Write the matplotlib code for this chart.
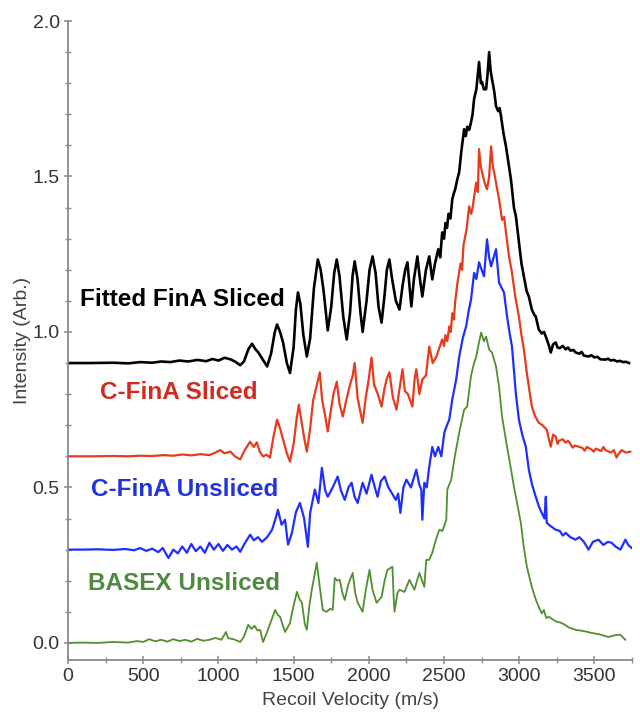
import matplotlib.pyplot as plt
from matplotlib.ticker import MultipleLocator

plt.rcParams['font.family'] = ['Liberation Sans', 'DejaVu Sans']

# Fitted FinA Sliced (black)
vel_black = [0, 150, 300, 400, 480, 560, 620, 680, 740, 800, 860, 920, 960, 1000, 1040, 1080, 1110, 1145, 1170,
             1200, 1224, 1245, 1264, 1290, 1324, 1350, 1375, 1390, 1410, 1430, 1455, 1476, 1500, 1515, 1529, 1545,
             1565, 1588, 1610, 1635, 1661, 1680, 1700, 1727, 1750, 1770, 1787, 1805, 1830, 1853, 1875, 1892, 1906,
             1925, 1945, 1959, 1985, 2005, 2025, 2045, 2065, 2085, 2105, 2120, 2137, 2155, 2180, 2204, 2225, 2242,
             2257, 2270, 2283, 2300, 2323, 2340, 2356, 2380, 2402, 2422, 2440, 2462, 2475, 2488, 2500, 2510, 2520,
             2530, 2543, 2555, 2565, 2575, 2588, 2601, 2615, 2634, 2645, 2655, 2668, 2680, 2690, 2700, 2715, 2733,
             2745, 2753, 2765, 2780, 2790, 2800, 2810, 2819, 2828, 2835, 2846, 2860, 2870, 2879, 2895, 2912, 2930,
             2945, 2965, 2978, 2998, 3015, 3031, 3050, 3064, 3084, 3100, 3110, 3130, 3150, 3165, 3177, 3195, 3210,
             3225, 3243, 3255, 3270, 3290, 3309, 3325, 3340, 3360, 3375, 3400, 3415, 3430, 3461, 3480, 3500, 3520,
             3540, 3574, 3590, 3610, 3630, 3650, 3670, 3690, 3710, 3730]
int_black = [0.900, 0.900, 0.901, 0.899, 0.903, 0.901, 0.905, 0.903, 0.908, 0.905, 0.910, 0.906, 0.913, 0.908,
             0.917, 0.912, 0.905, 0.893, 0.905, 0.945, 0.962, 0.945, 0.935, 0.915, 0.889, 0.930, 1.000, 1.024, 1.000,
             0.966, 0.900, 0.868, 0.950, 1.070, 1.127, 1.090, 0.990, 0.921, 0.980, 1.140, 1.233, 1.200, 1.130, 1.005,
             1.080, 1.190, 1.233, 1.180, 1.050, 0.976, 1.060, 1.180, 1.227, 1.170, 1.060, 1.000, 1.100, 1.200, 1.243,
             1.190, 1.080, 1.030, 1.120, 1.200, 1.233, 1.170, 1.100, 1.072, 1.150, 1.200, 1.224, 1.150, 1.082, 1.170,
             1.243, 1.170, 1.114, 1.200, 1.243, 1.169, 1.220, 1.266, 1.240, 1.320, 1.300, 1.350, 1.335, 1.380, 1.365,
             1.427, 1.445, 1.460, 1.490, 1.514, 1.580, 1.652, 1.630, 1.660, 1.650, 1.675, 1.700, 1.749, 1.780, 1.868,
             1.800, 1.804, 1.780, 1.781, 1.830, 1.900, 1.840, 1.813, 1.790, 1.770, 1.726, 1.710, 1.720, 1.694, 1.640,
             1.597, 1.540, 1.491, 1.400, 1.372, 1.290, 1.220, 1.179, 1.130, 1.114, 1.072, 1.055, 1.050, 1.008, 0.995,
             1.000, 0.985, 0.960, 0.934, 0.960, 0.966, 0.950, 0.948, 0.955, 0.944, 0.950, 0.940, 0.942, 0.934, 0.930,
             0.936, 0.924, 0.921, 0.925, 0.918, 0.920, 0.912, 0.911, 0.914, 0.908, 0.910, 0.905, 0.907, 0.903, 0.904,
             0.900]

# C-FinA Sliced (red)
vel_red = [0, 150, 300, 400, 480, 560, 640, 700, 760, 820, 880, 940, 980, 1012, 1040, 1080, 1110, 1145, 1175, 1211,
           1235, 1255, 1275, 1297, 1320, 1343, 1365, 1390, 1410, 1430, 1455, 1476, 1500, 1520, 1535, 1550, 1570, 1588,
           1610, 1630, 1650, 1674, 1690, 1710, 1727, 1745, 1765, 1787, 1805, 1827, 1850, 1875, 1893, 1906, 1925, 1945,
           1959, 1980, 2000, 2018, 2035, 2060, 2085, 2105, 2120, 2137, 2160, 2184, 2205, 2224, 2240, 2260, 2290, 2305,
           2316, 2336, 2356, 2380, 2402, 2425, 2449, 2470, 2488, 2500, 2510, 2522, 2535, 2545, 2555, 2565, 2575, 2590,
           2610, 2620, 2630, 2650, 2667, 2680, 2690, 2714, 2725, 2733, 2745, 2753, 2770, 2786, 2800, 2813, 2825, 2833,
           2850, 2866, 2886, 2900, 2912, 2930, 2952, 2975, 2998, 3015, 3031, 3050, 3064, 3084, 3105, 3130, 3155, 3183,
           3195, 3210, 3225, 3243, 3255, 3265, 3290, 3309, 3325, 3340, 3355, 3370, 3395, 3420, 3435, 3450, 3481, 3495,
           3510, 3545, 3560, 3574, 3610, 3630, 3647, 3665, 3680, 3710, 3739]
int_red = [0.600, 0.600, 0.601, 0.600, 0.602, 0.601, 0.604, 0.602, 0.606, 0.603, 0.607, 0.604, 0.612, 0.620, 0.610,
           0.615, 0.600, 0.590, 0.620, 0.647, 0.630, 0.645, 0.615, 0.600, 0.605, 0.596, 0.660, 0.718, 0.690, 0.654,
           0.610, 0.583, 0.640, 0.720, 0.766, 0.720, 0.660, 0.615, 0.690, 0.780, 0.820, 0.870, 0.780, 0.730, 0.680,
           0.740, 0.800, 0.840, 0.770, 0.728, 0.780, 0.830, 0.860, 0.900, 0.790, 0.740, 0.708, 0.790, 0.850, 0.918,
           0.830, 0.800, 0.760, 0.820, 0.850, 0.870, 0.790, 0.750, 0.820, 0.880, 0.810, 0.800, 0.760, 0.850, 0.880,
           0.800, 0.847, 0.860, 0.953, 0.900, 0.920, 0.950, 0.976, 0.955, 0.990, 0.970, 1.018, 1.000, 1.060, 1.040,
           1.100, 1.160, 1.220, 1.200, 1.280, 1.330, 1.404, 1.380, 1.400, 1.480, 1.450, 1.588, 1.530, 1.514, 1.480,
           1.459, 1.500, 1.597, 1.530, 1.514, 1.470, 1.427, 1.360, 1.370, 1.320, 1.250, 1.190, 1.110, 1.050, 0.990,
           0.944, 0.870, 0.824, 0.760, 0.730, 0.708, 0.700, 0.686, 0.660, 0.631, 0.670, 0.663, 0.640, 0.650, 0.655,
           0.644, 0.650, 0.640, 0.628, 0.635, 0.631, 0.627, 0.618, 0.630, 0.622, 0.615, 0.625, 0.617, 0.630, 0.620,
           0.612, 0.620, 0.596, 0.610, 0.620, 0.612, 0.615]

# C-FinA Unsliced (blue)
vel_blue = [0, 100, 200, 300, 380, 440, 480, 520, 560, 600, 630, 668, 700, 730, 760, 790, 820, 850, 880, 910, 940,
            970, 1000, 1030, 1060, 1090, 1120, 1145, 1175, 1211, 1235, 1263, 1290, 1324, 1357, 1380, 1396, 1420, 1443,
            1463, 1489, 1515, 1542, 1570, 1595, 1610, 1641, 1665, 1688, 1710, 1727, 1760, 1793, 1815, 1840, 1865,
            1886, 1905, 1926, 1959, 1985, 2018, 2040, 2058, 2080, 2105, 2130, 2151, 2180, 2195, 2210, 2230, 2250,
            2280, 2316, 2335, 2349, 2356, 2369, 2385, 2402, 2422, 2440, 2462, 2482, 2502, 2520, 2535, 2555, 2581,
            2601, 2625, 2647, 2665, 2680, 2700, 2715, 2733, 2750, 2766, 2786, 2800, 2813, 2830, 2846, 2866, 2885,
            2899, 2919, 2935, 2952, 2978, 2998, 3020, 3044, 3064, 3085, 3110, 3130, 3150, 3168, 3177, 3183, 3210,
            3243, 3270, 3290, 3309, 3340, 3375, 3400, 3430, 3461, 3490, 3527, 3560, 3590, 3614, 3640, 3673, 3706,
            3725, 3746]
int_blue = [0.300, 0.300, 0.301, 0.299, 0.302, 0.298, 0.305, 0.296, 0.303, 0.292, 0.305, 0.273, 0.300, 0.288, 0.310,
            0.290, 0.318, 0.295, 0.310, 0.290, 0.322, 0.300, 0.318, 0.296, 0.315, 0.300, 0.310, 0.293, 0.320, 0.348,
            0.330, 0.340, 0.325, 0.340, 0.364, 0.400, 0.428, 0.380, 0.396, 0.316, 0.354, 0.420, 0.450, 0.400, 0.309,
            0.418, 0.493, 0.450, 0.563, 0.490, 0.470, 0.500, 0.535, 0.490, 0.460, 0.500, 0.515, 0.470, 0.450, 0.515,
            0.480, 0.541, 0.500, 0.470, 0.520, 0.535, 0.500, 0.483, 0.460, 0.480, 0.418, 0.500, 0.525, 0.500, 0.557,
            0.510, 0.493, 0.396, 0.515, 0.500, 0.567, 0.630, 0.600, 0.630, 0.600, 0.676, 0.700, 0.718, 0.783, 0.847,
            0.920, 0.980, 1.018, 1.070, 1.105, 1.190, 1.170, 1.224, 1.200, 1.179, 1.298, 1.240, 1.211, 1.240, 1.266,
            1.159, 1.140, 1.127, 1.050, 1.000, 0.953, 0.800, 0.718, 0.670, 0.631, 0.557, 0.510, 0.470, 0.440, 0.418,
            0.400, 0.470, 0.386, 0.375, 0.364, 0.360, 0.345, 0.354, 0.340, 0.332, 0.340, 0.325, 0.300, 0.325, 0.332,
            0.315, 0.325, 0.322, 0.310, 0.300, 0.332, 0.315, 0.306]

# BASEX Unsliced (green)
vel_green = [0, 100, 200, 300, 400, 460, 500, 540, 580, 620, 660, 700, 740, 780, 820, 860, 900, 940, 980, 1020, 1050,
             1065, 1100, 1145, 1170, 1198, 1220, 1240, 1260, 1277, 1297, 1320, 1350, 1377, 1395, 1410, 1443, 1460,
             1476, 1500, 1522, 1540, 1555, 1575, 1588, 1605, 1621, 1640, 1654, 1674, 1694, 1720, 1745, 1760, 1774,
             1790, 1807, 1825, 1840, 1865, 1893, 1910, 1926, 1959, 1980, 2005, 2025, 2052, 2085, 2105, 2124, 2157,
             2165, 2171, 2190, 2204, 2237, 2270, 2303, 2336, 2369, 2382, 2402, 2422, 2445, 2469, 2490, 2515, 2522,
             2548, 2568, 2601, 2634, 2654, 2680, 2700, 2714, 2730, 2747, 2765, 2780, 2800, 2819, 2846, 2866, 2886,
             2919, 2945, 2965, 2978, 3011, 3030, 3051, 3084, 3110, 3130, 3150, 3164, 3180, 3197, 3240, 3283, 3330,
             3375, 3430, 3481, 3530, 3594, 3640, 3673, 3706]
int_green = [0.000, 0.001, 0.000, 0.003, 0.001, 0.006, 0.003, 0.012, 0.005, 0.010, 0.004, 0.012, 0.006, 0.010, 0.004,
             0.013, 0.007, 0.010, 0.016, 0.010, 0.035, 0.015, 0.012, 0.003, 0.020, 0.058, 0.045, 0.055, 0.040, 0.042,
             0.003, 0.030, 0.070, 0.106, 0.090, 0.084, 0.035, 0.050, 0.064, 0.120, 0.164, 0.140, 0.129, 0.060, 0.042,
             0.120, 0.171, 0.220, 0.258, 0.180, 0.106, 0.100, 0.110, 0.106, 0.209, 0.200, 0.203, 0.160, 0.138, 0.190,
             0.225, 0.160, 0.129, 0.100, 0.170, 0.235, 0.170, 0.129, 0.148, 0.200, 0.235, 0.245, 0.150, 0.100, 0.160,
             0.171, 0.164, 0.203, 0.171, 0.225, 0.180, 0.267, 0.267, 0.290, 0.330, 0.364, 0.360, 0.396, 0.493, 0.525,
             0.589, 0.676, 0.750, 0.760, 0.860, 0.900, 0.920, 0.960, 0.998, 0.970, 0.985, 0.944, 0.934, 0.889, 0.824,
             0.728, 0.631, 0.560, 0.502, 0.470, 0.386, 0.310, 0.245, 0.180, 0.140, 0.116, 0.095, 0.106, 0.080, 0.084,
             0.070, 0.064, 0.050, 0.042, 0.038, 0.032, 0.028, 0.019, 0.025, 0.026, 0.010]

labels = ['Fitted FinA Sliced', 'C-FinA Sliced', 'C-FinA Unsliced', 'BASEX Unsliced']
label_pos = [(80, 1.105), (215, 0.805), (150, 0.493), (136, 0.19)]

fig = plt.figure(figsize=(6.4, 7.15), dpi=100)
ax = fig.add_axes([68 / 640, 1 - 660 / 715, (632 - 68) / 640, (660 - 21) / 715])

ax.plot(vel_black, int_black, color='black', lw=1.9)
ax.plot(vel_red, int_red, color='#e83a1c', lw=1.6)
ax.plot(vel_blue, int_blue, color='#1f2eff', lw=1.6)
ax.plot(vel_green, int_green, color='#4f9030', lw=1.3)

text_colors = ['black', '#d12a1f', '#2233dd', '#4f8a40']
for lab, (x, y), c in zip(labels, label_pos, text_colors):
    ax.text(x, y, lab, color=c, fontsize=17.5, fontweight='bold', va='center', ha='left')

ax.set_xlim(0, 3750)
ax.set_ylim(-0.055, 2.0)
ax.xaxis.set_major_locator(MultipleLocator(500))
ax.xaxis.set_minor_locator(MultipleLocator(250))
ax.yaxis.set_major_locator(MultipleLocator(0.5))
ax.yaxis.set_minor_locator(MultipleLocator(0.1))
ax.yaxis.set_major_formatter(plt.FormatStrFormatter('%.1f'))

for s in ['top', 'right']:
    ax.spines[s].set_visible(False)
for s in ['left', 'bottom']:
    ax.spines[s].set_color('#8a8a8a')
    ax.spines[s].set_linewidth(1.3)

ax.tick_params(axis='both', which='both', colors='#8a8a8a', labelcolor='#333333', labelsize=14, direction='inout')
ax.tick_params(axis='both', which='major', length=6, width=1.1, pad=3)
ax.tick_params(axis='both', which='minor', length=4, width=1.0)

ax.set_xlabel('Recoil Velocity (m/s)', fontsize=14, color='#444444', labelpad=5)
ax.set_ylabel('Intensity (Arb.)', fontsize=14, color='#444444', labelpad=1)

fig.savefig('out.png', dpi=100)
